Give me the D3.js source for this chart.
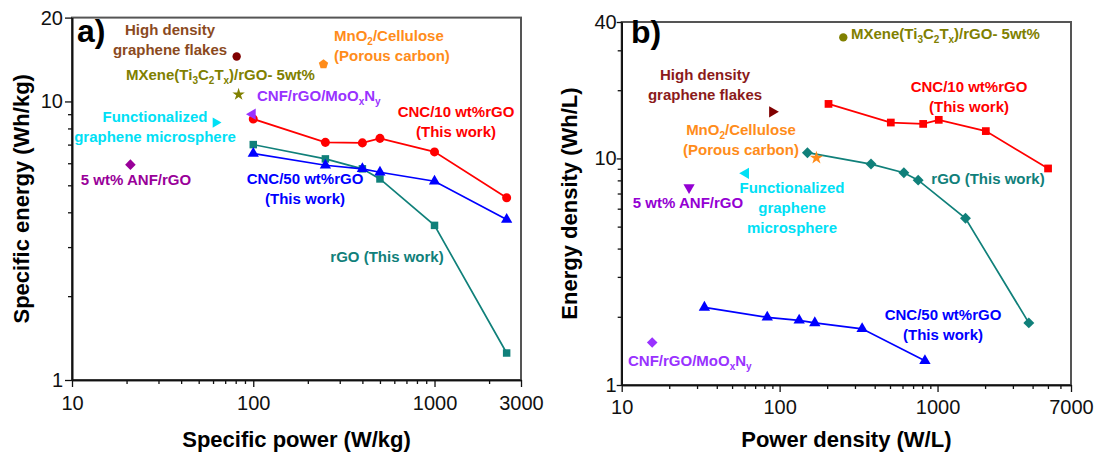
<!DOCTYPE html>
<html>
<head>
<meta charset="utf-8">
<script src="https://cdn.jsdelivr.net/npm/d3@7"></script>
<style>
  body { margin: 0; background: #fff; }
  text { font-family: Arial, "Liberation Sans", sans-serif; }
</style>
</head>
<body>
<svg id="chart" width="1094" height="454"></svg>
<script>
// ---- panel a) : gravimetric (W/kg, Wh/kg) ----
const powerA = [100, 250, 400, 500, 1000, 2500];
const energyA_cnc10 = [8.65, 7.13, 7.1, 7.37, 6.59, 4.51];
const energyA_cnc50 = [6.5, 5.9, 5.73, 5.57, 5.17, 3.77];
const energyA_rgo = [7.0, 6.22, 5.73, 5.27, 3.59, 1.25];

const litNamesA = ["High density graphene flakes", "MXene(Ti3C2Tx)/rGO- 5wt%", "CNF/rGO/MoOxNy",
                   "Functionalized graphene microsphere", "5 wt% ANF/rGO", "MnO2/Cellulose (Porous carbon)"];
const litPowerA = [81, 83, 99, 62, 21, 244];
const litEnergyA = [14.5, 10.6, 9.0, 8.4, 5.93, 13.6];

// ---- panel b) : volumetric (W/L, Wh/L) ----
const powerB_cnc10 = [204, 506, 811, 1018, 2022, 5010];
const energyB_cnc10 = [17.4, 14.4, 14.2, 14.8, 13.2, 9.03];
const powerB_rgo = [150, 379, 612, 754, 1503, 3785];
const energyB_rgo = [10.6, 9.44, 8.64, 8.02, 5.44, 1.88];
const powerB_cnc50 = [33.4, 83.5, 133, 167, 333, 832];
const energyB_cnc50 = [2.2, 1.99, 1.93, 1.88, 1.77, 1.28];

const litNamesB = ["MXene(Ti3C2Tx)/rGO- 5wt%", "High density graphene flakes", "MnO2/Cellulose (Porous carbon)",
                   "Functionalized graphene microsphere", "5 wt% ANF/rGO", "CNF/rGO/MoOxNy"];
const litPowerB = [253, 90, 171, 61, 26.7, 15.6];
const litEnergyB = [34.2, 16.05, 10.06, 8.59, 7.45, 1.54];

// tick values
const xMajorA = [10, 100, 1000, 3000];
const xMinorA = [20, 30, 40, 50, 60, 70, 80, 90, 200, 300, 400, 500, 600, 700, 800, 900, 2000];
const yMajorA = [1, 10, 20];
const yMinorA = [2, 3, 4, 5, 6, 7, 8, 9];
const xMajorB = [10, 100, 1000, 7000];
const xMinorB = [20, 30, 40, 50, 60, 70, 80, 90, 200, 300, 400, 500, 600, 700, 800, 900, 2000, 3000, 4000, 5000, 6000];
const yMajorB = [1, 10, 40];
const yMinorB = [2, 3, 4, 5, 6, 7, 8, 9, 20, 30];

// colours
const RED = "#ff0000", BLUE = "#0000ff", TEAL = "#10807a", OLIVE = "#808000",
      CYAN = "#00e0f5", VIOLET = "#9932ff", MAGENTA = "#990099", ORANGE = "#ff8c1a",
      MAROON = "#800000", BROWN = "#8b4a1e";

const svg = d3.select("#chart");

// custom shapes
const pentagon = {
  draw(ctx, size) {
    const r = Math.sqrt(size) * 0.66;
    for (let k = 0; k < 5; k++) {
      const a = -Math.PI / 2 + k * 2 * Math.PI / 5;
      k ? ctx.lineTo(r * Math.cos(a), r * Math.sin(a)) : ctx.moveTo(r * Math.cos(a), r * Math.sin(a));
    }
    ctx.closePath();
  }
};
const diamond = { // square turned 45 degrees
  draw(ctx, size) {
    const r = Math.sqrt(size / 2);
    ctx.moveTo(0, -r); ctx.lineTo(r, 0); ctx.lineTo(0, r); ctx.lineTo(-r, 0); ctx.closePath();
  }
};

// text with _x subscripts
function richText(sel, str, sub) {
  const parts = str.split(/(_.)/).filter(s => s.length);
  let down = false;
  parts.forEach(s => {
    const t = sel.append("tspan");
    if (s[0] === "_") {
      t.text(s[1]).attr("font-size", sub).attr("dy", down ? 0 : 4);
      down = true;
    } else {
      t.text(s).attr("dy", down ? -4 : 0);
      down = false;
    }
  });
}

function drawPanel(p) {
  const x = d3.scaleLog().domain(p.xDomain).range([p.left, p.right]);
  const y = d3.scaleLog().domain(p.yDomain).range([p.bottom, p.top]);

  // frame
  svg.append("rect")
    .attr("x", p.left).attr("y", p.top)
    .attr("width", p.right - p.left).attr("height", p.bottom - p.top)
    .attr("fill", "none").attr("stroke", "#555").attr("stroke-width", 2);

  const styleAxis = g => {
    g.select(".domain").attr("stroke", "#111").attr("stroke-width", 1.6);
    g.selectAll(".tick line").attr("stroke", "#111").attr("stroke-width", 1.3);
    g.selectAll(".tick text").attr("font-size", 20).attr("fill", "#111")
      .attr("font-family", 'Arial, "Liberation Sans", sans-serif');
  };

  svg.append("g").attr("transform", `translate(0,${p.bottom})`)
    .call(d3.axisBottom(x).tickValues(p.xMinor).tickSize(4).tickSizeOuter(0).tickFormat(""))
    .call(styleAxis);
  svg.append("g").attr("transform", `translate(0,${p.bottom})`)
    .call(d3.axisBottom(x).tickValues(p.xMajor).tickSize(7).tickSizeOuter(0).tickPadding(p.xPad).tickFormat(d3.format("d")))
    .call(styleAxis);
  svg.append("g").attr("transform", `translate(${p.left},0)`)
    .call(d3.axisLeft(y).tickValues(p.yMinor).tickSize(4).tickSizeOuter(0).tickFormat(""))
    .call(styleAxis);
  svg.append("g").attr("transform", `translate(${p.left},0)`)
    .call(d3.axisLeft(y).tickValues(p.yMajor).tickSize(p.yTick).tickSizeOuter(0).tickPadding(p.yPad).tickFormat(d3.format("d")))
    .call(styleAxis);

  // axis titles
  svg.append("text")
    .attr("x", (p.left + p.right) / 2).attr("y", 447)
    .attr("text-anchor", "middle").attr("font-size", 22).attr("font-weight", "bold")
    .text(p.xTitle);
  svg.append("text")
    .attr("transform", `translate(${p.yTitleX},${(p.top + p.bottom) / 2}) rotate(-90)`)
    .attr("text-anchor", "middle").attr("font-size", 22).attr("font-weight", "bold")
    .text(p.yTitle);

  // series with lines
  p.series.forEach(s => {
    const pts = s.px.map((v, i) => [v, s.py[i]]);
    svg.append("path").datum(pts)
      .attr("fill", "none").attr("stroke", s.color).attr("stroke-width", 1.7)
      .attr("d", d3.line().x(d => x(d[0])).y(d => y(d[1])));
    svg.append("g").selectAll("path").data(pts).join("path")
      .attr("transform", d => `translate(${x(d[0])},${y(d[1])}) rotate(${s.rot || 0})`)
      .attr("fill", s.color)
      .attr("d", d3.symbol().type(s.shape).size(s.size));
  });

  // literature points
  p.lit.forEach((m, i) => {
    svg.append("path")
      .attr("transform", `translate(${x(p.litX[i])},${y(p.litY[i])}) rotate(${m.rot || 0})`)
      .attr("fill", m.color)
      .attr("d", d3.symbol().type(m.shape).size(m.size));
  });

  // annotations
  p.notes.forEach(n => {
    n.lines.forEach((line, k) => {
      const t = svg.append("text")
        .attr("x", n.x).attr("y", n.y + k * 20)
        .attr("dy", "0.35em")
        .attr("text-anchor", n.anchor || "middle")
        .attr("font-size", n.size || 15).attr("font-weight", "bold")
        .attr("fill", n.color);
      richText(t, line, 10);
    });
  });
}

drawPanel({
  left: 72, right: 521, top: 17.6, bottom: 380,
  xDomain: [10, 3000], yDomain: [1, 20],
  xMajor: xMajorA, xMinor: xMinorA, yMajor: yMajorA, yMinor: yMinorA,
  xPad: 9, yPad: 2, yTick: 7, yTitleX: 29,
  xTitle: "Specific power (W/kg)", yTitle: "Specific energy (Wh/kg)",
  series: [
    { px: powerA, py: energyA_rgo, color: TEAL, shape: d3.symbolSquare, size: 56 },
    { px: powerA, py: energyA_cnc50, color: BLUE, shape: d3.symbolTriangle, size: 55 },
    { px: powerA, py: energyA_cnc10, color: RED, shape: d3.symbolCircle, size: 64 }
  ],
  litX: litPowerA, litY: litEnergyA,
  lit: [
    { color: MAROON, shape: d3.symbolCircle, size: 55 },
    { color: OLIVE, shape: d3.symbolStar, size: 48 },
    { color: VIOLET, shape: d3.symbolTriangle, size: 55, rot: -90 },
    { color: CYAN, shape: d3.symbolTriangle, size: 45, rot: 90 },
    { color: MAGENTA, shape: diamond, size: 56 },
    { color: ORANGE, shape: pentagon, size: 55 }
  ],
  notes: [
    { lines: ["a)"], x: 77, y: 42, anchor: "start", size: 32, color: "#000" },
    { lines: ["High density", "graphene flakes"], x: 170, y: 35, color: BROWN },
    { lines: ["MXene(Ti_3C_2T_x)/rGO- 5wt%"], x: 126, y: 80, anchor: "start", color: OLIVE },
    { lines: ["CNF/rGO/MoO_xN_y"], x: 257, y: 101, anchor: "start", color: VIOLET },
    { lines: ["Functionalized", "graphene microsphere"], x: 155, y: 122, color: CYAN },
    { lines: ["5 wt% ANF/rGO"], x: 136, y: 185, color: MAGENTA },
    { lines: ["MnO_2/Cellulose", "(Porous carbon)"], x: 334, y: 41, anchor: "start", color: ORANGE },
    { lines: ["CNC/10 wt%rGO", "(This work)"], x: 456, y: 117, color: RED },
    { lines: ["CNC/50 wt%rGO", "(This work)"], x: 305, y: 184, color: BLUE },
    { lines: ["rGO (This work)"], x: 387, y: 262, color: TEAL }
  ]
});

drawPanel({
  left: 621.7, right: 1071, top: 22, bottom: 385,
  xDomain: [10, 7000], yDomain: [1, 40],
  xMajor: xMajorB, xMinor: xMinorB, yMajor: yMajorB, yMinor: yMinorB,
  xPad: 8, yPad: 0, yTick: 5, yTitleX: 577,
  xTitle: "Power density (W/L)", yTitle: "Energy density (Wh/L)",
  series: [
    { px: powerB_cnc10, py: energyB_cnc10, color: RED, shape: d3.symbolSquare, size: 60 },
    { px: powerB_rgo, py: energyB_rgo, color: TEAL, shape: diamond, size: 60 },
    { px: powerB_cnc50, py: energyB_cnc50, color: BLUE, shape: d3.symbolTriangle, size: 56 }
  ],
  litX: litPowerB, litY: litEnergyB,
  lit: [
    { color: OLIVE, shape: d3.symbolCircle, size: 55 },
    { color: MAROON, shape: d3.symbolTriangle, size: 55, rot: 90 },
    { color: ORANGE, shape: d3.symbolStar, size: 55 },
    { color: CYAN, shape: d3.symbolTriangle, size: 55, rot: -90 },
    { color: "#9400d3", shape: d3.symbolTriangle, size: 55, rot: 180 },
    { color: VIOLET, shape: diamond, size: 56 }
  ],
  notes: [
    { lines: ["b)"], x: 631, y: 43, anchor: "start", size: 32, color: "#000" },
    { lines: ["MXene(Ti_3C_2T_x)/rGO- 5wt%"], x: 851, y: 39, anchor: "start", color: OLIVE },
    { lines: ["High density", "graphene flakes"], x: 705, y: 80, color: "#8b1a1a" },
    { lines: ["MnO_2/Cellulose", "(Porous carbon)"], x: 741, y: 135, color: ORANGE },
    { lines: ["Functionalized", "graphene", "microsphere"], x: 792, y: 193, color: CYAN },
    { lines: ["5 wt% ANF/rGO"], x: 688, y: 208, color: "#9400d3" },
    { lines: ["CNC/10 wt%rGO", "(This work)"], x: 969, y: 92, color: RED },
    { lines: ["rGO (This work)"], x: 988, y: 184, color: TEAL },
    { lines: ["CNC/50 wt%rGO", "(This work)"], x: 943, y: 320, color: BLUE },
    { lines: ["CNF/rGO/MoO_xN_y"], x: 628, y: 366, anchor: "start", color: VIOLET }
  ]
});
</script>
</body>
</html>
